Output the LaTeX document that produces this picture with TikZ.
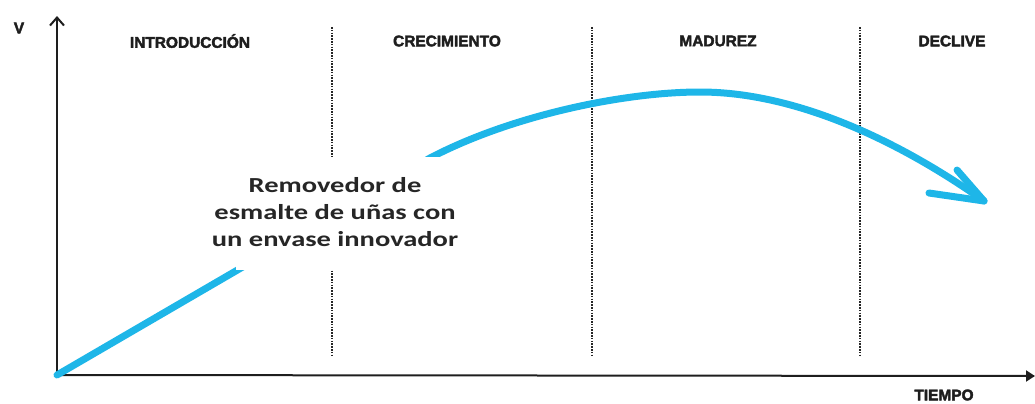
\documentclass[tikz,border=0pt]{standalone}
\usepackage{fontspec}
\setmainfont{Carlito}
\newfontfamily\hdr[FakeBold=2.6]{Liberation Sans Bold}
\newfontfamily\lbl[FakeStretch=1.33]{Carlito Bold}
\usetikzlibrary{arrows.meta}
\definecolor{curvecol}{RGB}{30,182,232}
\definecolor{axiscol}{RGB}{30,30,30}
\begin{document}
\begin{tikzpicture}[x=1bp,y=-1bp,
  phase/.style={font=\hdr\fontsize{15.5}{15.5}\selectfont, text=axiscol, anchor=center, inner sep=0pt},
  divider/.style={draw=black!85, line width=2bp, dash pattern=on 1.6bp off 1.2bp},
  axis/.style={draw=axiscol, line width=2bp},
  lifecurve/.style={draw=curvecol, line width=7bp, line cap=round, line join=round},
  desc/.style={font=\lbl\fontsize{21.5}{27.5}\selectfont, text=black!85, align=center, inner sep=0pt}]
\useasboundingbox (0,0) rectangle (1035,403);
% named points
\coordinate (origin) at (57,375);
\coordinate (ytop) at (57,16);
\coordinate (xend) at (1035,376);
\coordinate (bend) at (430,158);
\coordinate (peak) at (700,92);
\coordinate (tip) at (984,201);
\coordinate (armA) at (929,193);
\coordinate (armB) at (957,170);
% dividers
\foreach \n/\x in {d1/332,d2/592,d3/860}{
  \coordinate (\n t) at (\x,27);
  \coordinate (\n b) at (\x,355);
  \draw[divider] (\n t) -- (\n b);
}
% axes
\draw[axis, -{Straight Barb[length=8bp,width=14bp]}] (origin) -- (ytop);
\draw[axis, -{Triangle[length=9bp,width=11bp]}] (origin) -- (xend);
% curve
\draw[lifecurve] (origin) -- (bend) .. controls (512,115) and (625,92) .. (peak)
   .. controls (800,92) and (905,145) .. (tip);
\draw[lifecurve] (armA) -- (tip) -- (armB);
% mask + label
\fill[white] (236,157) rectangle (460,270);
\node[desc] (label) at (335,212) {Removedor de\\esmalte de uñas con\\un envase innovador};
% texts
\node[phase] (v) at (19,28) {V};
\node[phase] (intro) at (190,41) {INTRODUCCIÓN};
\node[phase] (crec) at (447,41) {CRECIMIENTO};
\node[phase] (mad) at (718,41) {MADUREZ};
\node[phase] (dec) at (952,41) {DECLIVE};
\node[phase] (tiempo) at (944,395) {TIEMPO};
\end{tikzpicture}
\end{document}
